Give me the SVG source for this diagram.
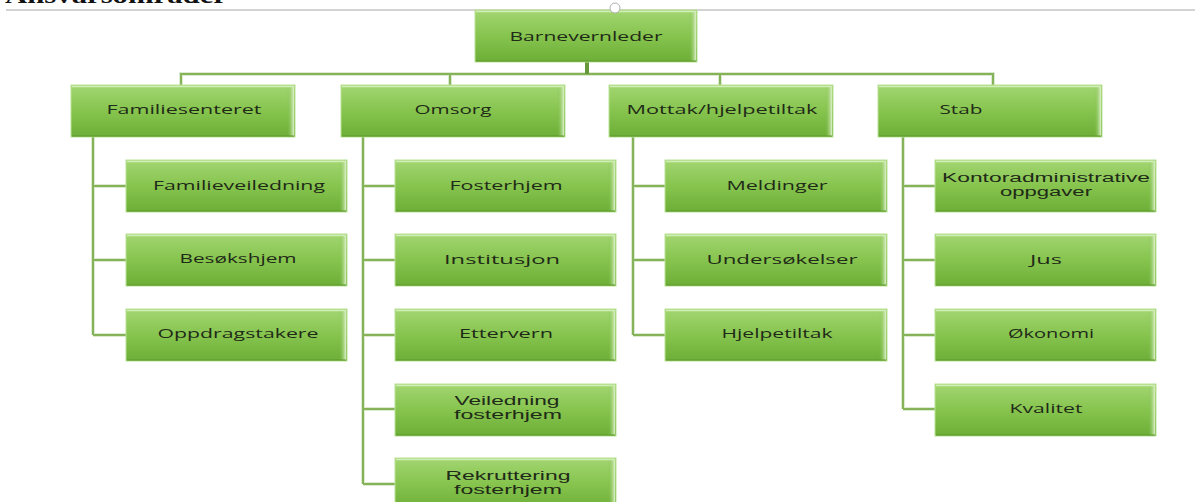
<svg xmlns="http://www.w3.org/2000/svg" width="1195" height="502" viewBox="0 0 1195 502">
<defs>
<linearGradient id="g" x1="0" y1="0" x2="0" y2="1">
<stop offset="0" stop-color="#a3d672"/>
<stop offset="0.5" stop-color="#86c44e"/>
<stop offset="1" stop-color="#6cae37"/>
</linearGradient>
<linearGradient id="gr" x1="0" y1="0" x2="1" y2="0">
<stop offset="0" stop-color="#79b944" stop-opacity="0"/>
<stop offset="1" stop-color="#dff2cc"/>
</linearGradient>
</defs>
<style>
.box{fill:url(#g);stroke:#b9e196;stroke-width:1}
.hl{fill:none;stroke:#d2eeb8;stroke-width:1.5}
.rs{fill:url(#gr)}
.sh{fill:none;stroke:#5e9a2e;stroke-width:1.2}
.t{font-family:"Open Sans","Liberation Sans",sans-serif;font-size:13px;fill:#1f2a18;text-anchor:middle}
.t2{font-family:"Liberation Sans",Arial,sans-serif;font-size:12px;fill:#1f2a18;text-anchor:middle}
.halo{fill:none;stroke:#dcebcf;stroke-width:4}
.ln{fill:none;stroke:#86b35a;stroke-width:2}
</style>
<text x="5" y="3" font-family="Liberation Serif, serif" font-weight="bold" font-size="24" textLength="222" lengthAdjust="spacingAndGlyphs" fill="#111">Ansvarsområder</text>
<line x1="6" y1="10" x2="1195" y2="10" stroke="#c4c4c4" stroke-width="1.5"/>

<g id="connectors">
<path class="halo" d="M587 62V74M181 85V74H993V85M450 74V85M720 74V85"/>
<path class="halo" d="M93 137V335M93 186H126M93 260H126M93 335H126"/>
<path class="halo" d="M363 137V484M363 186H395M363 260H395M363 335H395M363 409H395M363 484H395"/>
<path class="halo" d="M633 137V335M633 186H665M633 260H665M633 335H665"/>
<path class="halo" d="M903 137V409M903 186H935M903 260H935M903 335H935M903 409H935"/>
<path class="ln" d="M181 85V74H993V85M450 74V85M720 74V85"/>
<path d="M587 62V74" stroke="#66993a" stroke-width="4" fill="none"/>
<path class="ln" d="M93 137V335M93 186H126M93 260H126M93 335H126"/>
<path class="ln" d="M363 137V484M363 186H395M363 260H395M363 335H395M363 409H395M363 484H395"/>
<path class="ln" d="M633 137V335M633 186H665M633 260H665M633 335H665"/>
<path class="ln" d="M903 137V409M903 186H935M903 260H935M903 335H935M903 409H935"/>
</g>

<g id="barnevernleder">
<rect class="box" x="475" y="10" width="222" height="52"/>
<rect class="rs" x="689" y="11" width="7" height="50"/>
<path class="hl" d="M476 11.5H695"/>
<path class="sh" d="M476 61H696"/>
<text class="t" x="586" y="41" textLength="153" lengthAdjust="spacingAndGlyphs">Barnevernleder</text>
</g>

<g id="familiesenteret">
<rect class="box" x="71" y="85" width="224" height="52"/>
<rect class="rs" x="287" y="86" width="7" height="50"/>
<path class="hl" d="M72 86.5H293"/><path class="sh" d="M72 136H294"/>
<text class="t" x="184" y="114" textLength="155" lengthAdjust="spacingAndGlyphs">Familiesenteret</text>
</g>
<g id="omsorg">
<rect class="box" x="341" y="85" width="224" height="52"/>
<rect class="rs" x="557" y="86" width="7" height="50"/>
<path class="hl" d="M342 86.5H563"/><path class="sh" d="M342 136H564"/>
<text class="t" x="453" y="114" textLength="77" lengthAdjust="spacingAndGlyphs">Omsorg</text>
</g>
<g id="mottak">
<rect class="box" x="609" y="85" width="224" height="52"/>
<rect class="rs" x="825" y="86" width="7" height="50"/>
<path class="hl" d="M610 86.5H831"/><path class="sh" d="M610 136H832"/>
<text class="t" x="722" y="114" textLength="191" lengthAdjust="spacingAndGlyphs">Mottak/hjelpetiltak</text>
</g>
<g id="stab">
<rect class="box" x="878" y="85" width="224" height="52"/>
<rect class="rs" x="1094" y="86" width="7" height="50"/>
<path class="hl" d="M879 86.5H1100"/><path class="sh" d="M879 136H1101"/>
<text class="t" x="961" y="114" textLength="43" lengthAdjust="spacingAndGlyphs">Stab</text>
</g>

<g id="familieveiledning">
<rect class="box" x="126" y="160" width="221" height="52"/><rect class="rs" x="339" y="161" width="7" height="50"/>
<path class="hl" d="M127 161.5H345"/><path class="sh" d="M127 211H346"/>
<text class="t" x="239" y="190" textLength="172" lengthAdjust="spacingAndGlyphs">Familieveiledning</text>
</g>
<g id="besokshjem">
<rect class="box" x="126" y="234" width="221" height="52"/><rect class="rs" x="339" y="235" width="7" height="50"/>
<path class="hl" d="M127 235.5H345"/><path class="sh" d="M127 285H346"/>
<text class="t" x="238" y="263" textLength="117" lengthAdjust="spacingAndGlyphs">Besøkshjem</text>
</g>
<g id="oppdragstakere">
<rect class="box" x="126" y="309" width="221" height="52"/><rect class="rs" x="339" y="310" width="7" height="50"/>
<path class="hl" d="M127 310.5H345"/><path class="sh" d="M127 360H346"/>
<text class="t" x="238" y="338" textLength="161" lengthAdjust="spacingAndGlyphs">Oppdragstakere</text>
</g>

<g id="fosterhjem">
<rect class="box" x="395" y="160" width="221" height="52"/><rect class="rs" x="608" y="161" width="7" height="50"/>
<path class="hl" d="M396 161.5H614"/><path class="sh" d="M396 211H615"/>
<text class="t" x="506" y="190" textLength="113" lengthAdjust="spacingAndGlyphs">Fosterhjem</text>
</g>
<g id="institusjon">
<rect class="box" x="395" y="234" width="221" height="52"/><rect class="rs" x="608" y="235" width="7" height="50"/>
<path class="hl" d="M396 235.5H614"/><path class="sh" d="M396 285H615"/>
<text class="t" x="502" y="264" textLength="116" lengthAdjust="spacingAndGlyphs">Institusjon</text>
</g>
<g id="ettervern">
<rect class="box" x="395" y="309" width="221" height="52"/><rect class="rs" x="608" y="310" width="7" height="50"/>
<path class="hl" d="M396 310.5H614"/><path class="sh" d="M396 360H615"/>
<text class="t" x="506" y="338" textLength="94" lengthAdjust="spacingAndGlyphs">Ettervern</text>
</g>
<g id="veiledning-fosterhjem">
<rect class="box" x="395" y="384" width="221" height="52"/><rect class="rs" x="608" y="385" width="7" height="50"/>
<path class="hl" d="M396 385.5H614"/><path class="sh" d="M396 435H615"/>
<text class="t2" x="507" y="405" textLength="105" lengthAdjust="spacingAndGlyphs">Veiledning</text>
<text class="t2" x="508" y="419" textLength="108" lengthAdjust="spacingAndGlyphs">fosterhjem</text>
</g>
<g id="rekruttering-fosterhjem">
<rect class="box" x="395" y="458" width="221" height="52"/><rect class="rs" x="608" y="459" width="7" height="50"/>
<path class="hl" d="M396 459.5H614"/>
<text class="t2" x="508" y="480" textLength="125" lengthAdjust="spacingAndGlyphs">Rekruttering</text>
<text class="t2" x="508" y="494" textLength="108" lengthAdjust="spacingAndGlyphs">fosterhjem</text>
</g>

<g id="meldinger">
<rect class="box" x="665" y="160" width="222" height="52"/><rect class="rs" x="879" y="161" width="7" height="50"/>
<path class="hl" d="M666 161.5H885"/><path class="sh" d="M666 211H886"/>
<text class="t" x="777" y="190" textLength="101" lengthAdjust="spacingAndGlyphs">Meldinger</text>
</g>
<g id="undersokelser">
<rect class="box" x="665" y="234" width="222" height="52"/><rect class="rs" x="879" y="235" width="7" height="50"/>
<path class="hl" d="M666 235.5H885"/><path class="sh" d="M666 285H886"/>
<text class="t" x="782" y="264" textLength="151" lengthAdjust="spacingAndGlyphs">Undersøkelser</text>
</g>
<g id="hjelpetiltak">
<rect class="box" x="665" y="309" width="222" height="52"/><rect class="rs" x="879" y="310" width="7" height="50"/>
<path class="hl" d="M666 310.5H885"/><path class="sh" d="M666 360H886"/>
<text class="t" x="777" y="338" textLength="111" lengthAdjust="spacingAndGlyphs">Hjelpetiltak</text>
</g>

<g id="kontoradministrative">
<rect class="box" x="935" y="160" width="221" height="52"/><rect class="rs" x="1148" y="161" width="7" height="50"/>
<path class="hl" d="M936 161.5H1154"/><path class="sh" d="M936 211H1155"/>
<text class="t2" x="1046" y="182" textLength="208" lengthAdjust="spacingAndGlyphs">Kontoradministrative</text>
<text class="t2" x="1046" y="196" textLength="92" lengthAdjust="spacingAndGlyphs">oppgaver</text>
</g>
<g id="jus">
<rect class="box" x="935" y="234" width="221" height="52"/><rect class="rs" x="1148" y="235" width="7" height="50"/>
<path class="hl" d="M936 235.5H1154"/><path class="sh" d="M936 285H1155"/>
<text class="t" x="1046" y="264" textLength="32" lengthAdjust="spacingAndGlyphs">Jus</text>
</g>
<g id="okonomi">
<rect class="box" x="935" y="309" width="221" height="52"/><rect class="rs" x="1148" y="310" width="7" height="50"/>
<path class="hl" d="M936 310.5H1154"/><path class="sh" d="M936 360H1155"/>
<text class="t" x="1051" y="338" textLength="86" lengthAdjust="spacingAndGlyphs">Økonomi</text>
</g>
<g id="kvalitet">
<rect class="box" x="935" y="384" width="221" height="52"/><rect class="rs" x="1148" y="385" width="7" height="50"/>
<path class="hl" d="M936 385.5H1154"/><path class="sh" d="M936 435H1155"/>
<text class="t" x="1046" y="413" textLength="73" lengthAdjust="spacingAndGlyphs">Kvalitet</text>
</g>

<circle cx="615" cy="8" r="5" fill="#fff" stroke="#b0b0b0" stroke-width="1"/>
</svg>
